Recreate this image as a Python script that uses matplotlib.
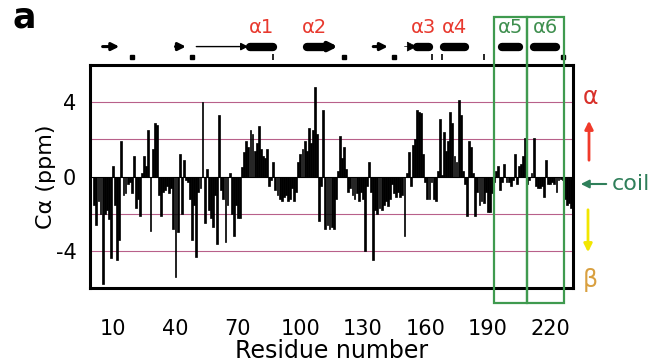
import matplotlib
matplotlib.use("Agg")
import matplotlib.pyplot as plt
from matplotlib.patches import Rectangle, FancyArrowPatch
import numpy as np

# chemical shift index per residue (C-alpha, ppm)
shifts = [
    -1.5, -2.6, -1.3, -2.0, -5.8, -2.0, -1.8, -2.3, -4.4, 0.6,
    -1.5, -4.5, -3.4, 1.9, -1.0, -0.9, -0.4, -0.3, -0.9, 1.1,
    -1.7, -1.2, -2.1, 0.2, 1.1, 0.6, 2.5, -2.9, 1.5, 2.9,
    2.8, -1.0, -2.1, -0.8, -0.7, -0.5, -0.9, -0.6, -2.8, -5.4,
    -3.0, 1.2, -2.0, 0.9, -0.2, -0.3, -1.2, -3.4, -1.5, -4.3,
    -0.8, -0.6, 4.0, -2.5, 0.4, -1.8, -2.2, -2.7, -1.0, -3.6,
    3.3, -0.7, -1.2, -3.5, -1.5, 0.2, -2.0, -3.2, -1.5, -2.2,
    -2.2, 0.5, 1.3, 1.9, 1.6, 2.5, 2.3, 1.4, 1.8, 2.7,
    1.5, 1.1, 1.0, 1.5, -0.5, -0.2, 0.8, -0.7, -1.0, -1.2,
    -1.3, -1.1, -1.0, -1.3, -1.2, -0.6, -1.3, -0.8, 0.8, 1.2,
    1.5, 1.9, 1.4, 2.6, 1.8, 2.5, 4.8, 2.3, -2.4, -0.5,
    3.6, -2.8, -2.6, -2.8, -2.7, -2.8, -1.2, 0.3, 2.2, 1.0,
    1.6, 0.4, -0.8, -0.6, -1.0, -1.2, -0.9, -1.3, -0.8, -1.2,
    -4.0, -0.5, 0.8, -0.8, -4.5, -1.8, -2.0, -1.7, -1.8, -1.5,
    -1.3, -1.6, -1.2, -0.4, -0.9, -1.1, -0.8, -1.1, -1.0, -3.2,
    0.2, 1.3, -0.5, 1.7, 2.0, 3.6, 3.5, 3.4, 1.2, -0.3,
    -1.2, -1.2, -0.3, -1.2, -1.3, 0.3, 3.1, 0.1, 2.4, 1.4,
    1.9, 3.5, 2.9, 1.1, 0.8, 4.1, 3.3, 0.3, -0.4, -2.1,
    1.9, 1.6, 0.2, -2.1, -0.8, -1.5, -1.3, -1.4, -0.8, -1.9,
    -1.9, -0.9, -0.3, 0.3, 0.6, -0.7, -0.3, 0.7, -0.3, -0.3,
    -0.5, -0.2, 1.2, -0.4, 0.6, 0.7, 1.1, 2.1, -0.4, -0.2,
    0.2, 2.1, -0.5, -0.6, -0.6, -0.5, -1.1, 0.9, -0.4, -0.4,
    -0.3, -0.4, -0.8, -0.2, -0.1, -0.2, -1.2, -1.5, -1.4, -1.7,
]
residues = np.arange(1, len(shifts) + 1)

xticks = [10, 40, 70, 100, 130, 160, 190, 220]
yticks = [-4, 0, 4]
ytick_labels = ['-4', '0', '4']

# secondary structure (residue ranges)
helices = [(76, 87), (103, 111), (156, 162), (169, 179), (197, 205), (212, 223)]
helix_labels = ['α1', 'α2', 'α3', 'α4', 'α5', 'α6']
helix_colors = ['#e8392e'] * 4 + ['#3f8f4f'] * 2
strands = [(5, 13), (40, 45), (50, 75), (110, 118), (135, 142), (150, 156)]
strand_widths = [2.2, 2.2, 1.0, 3.5, 2.2, 0.5]
strand_heads = [11, 11, 11, 12, 11, 16]
dots = [19, 48, 121, 145, 226]
ticks_small = [87, 163, 168, 188]
boxes = [(193, 209), (209, 226.5)]

fig = plt.figure(figsize=(6.58, 3.62), dpi=100)
ax = fig.add_axes([0.137, 0.204, 0.734, 0.616])

ax.bar(residues, shifts, width=0.9, color='black', edgecolor='black',
       linewidth=0.5, zorder=3)
for g in [-4, -2, 2, 4]:
    ax.axhline(g, color='#b8608a', lw=0.8, zorder=1)
ax.axhline(0, color='black', lw=0.8, zorder=2)

ax.set_xlim(-1, 231)
ax.set_ylim(-6, 6)
ax.set_xticks(xticks)
ax.set_xticklabels([str(t) for t in xticks], fontsize=15)
ax.set_yticks(yticks)
ax.set_yticklabels(ytick_labels, fontsize=15)
ax.tick_params(length=0)
ax.tick_params(axis='x', pad=22)
ax.tick_params(axis='y', pad=10)
for s in ax.spines.values():
    s.set_linewidth(2.2)
ax.set_xlabel('Residue number', fontsize=17, labelpad=0)
ax.set_ylabel('Cα (ppm)', fontsize=16, labelpad=0)

# green boxes around alpha5 / alpha6
for x0, x1 in boxes:
    ax.add_patch(Rectangle((x0, -6.8), x1 - x0, 15.4, fill=False,
                           edgecolor='#3f9a4f', lw=1.6, clip_on=False, zorder=4))

# secondary structure track
ys = 7.0
for (a, b), w, hs in zip(strands, strand_widths, strand_heads):
    ax.annotate('', xy=(b, ys), xytext=(a, ys), annotation_clip=False,
                arrowprops=dict(arrowstyle='-|>', lw=w, color='black',
                                mutation_scale=hs, shrinkA=0, shrinkB=0))
for (a, b), lab, c in zip(helices, helix_labels, helix_colors):
    ax.plot([a, b], [ys, ys], color='black', lw=6, solid_capstyle='round',
            clip_on=False)
    ax.text((a + b) / 2, 7.5, lab, color=c, fontsize=14, ha='center',
            va='bottom')
ax.plot(dots, [6.45] * len(dots), 's', color='black', ms=2.5, clip_on=False)
ax.plot(ticks_small, [6.45] * len(ticks_small), '|', color='black', ms=4,
        mew=1.2, clip_on=False)

# right-hand legend for the index
fig.text(590 / 658, 1 - 97 / 362, 'α', color='#d8302a', fontsize=17,
         ha='center', va='center')
fig.text(590 / 658, 1 - 280 / 362, 'β', color='#d9a040', fontsize=17,
         ha='center', va='center')
fig.text(612 / 658, 1 - 184 / 362, 'coil', color='#2f7f5a', fontsize=16,
         ha='left', va='center')
fig.add_artist(FancyArrowPatch(
    (589 / 658, 1 - 163 / 362), (589 / 658, 1 - 118 / 362),
    transform=fig.transFigure, arrowstyle='-|>', mutation_scale=12,
    color='#f03a2a', lw=2))
fig.add_artist(FancyArrowPatch(
    (588 / 658, 1 - 207 / 362), (588 / 658, 1 - 255 / 362),
    transform=fig.transFigure, arrowstyle='-|>', mutation_scale=12,
    color='#f2e600', lw=2))
fig.add_artist(FancyArrowPatch(
    (609 / 658, 1 - 184 / 362), (578 / 658, 1 - 184 / 362),
    transform=fig.transFigure, arrowstyle='-|>', mutation_scale=12,
    color='#2f7f5a', lw=1.5))

fig.text(12 / 658, 1 - 18 / 362, 'a', fontsize=25, fontweight='bold',
         ha='left', va='center')

fig.savefig('out.png', dpi=100)
